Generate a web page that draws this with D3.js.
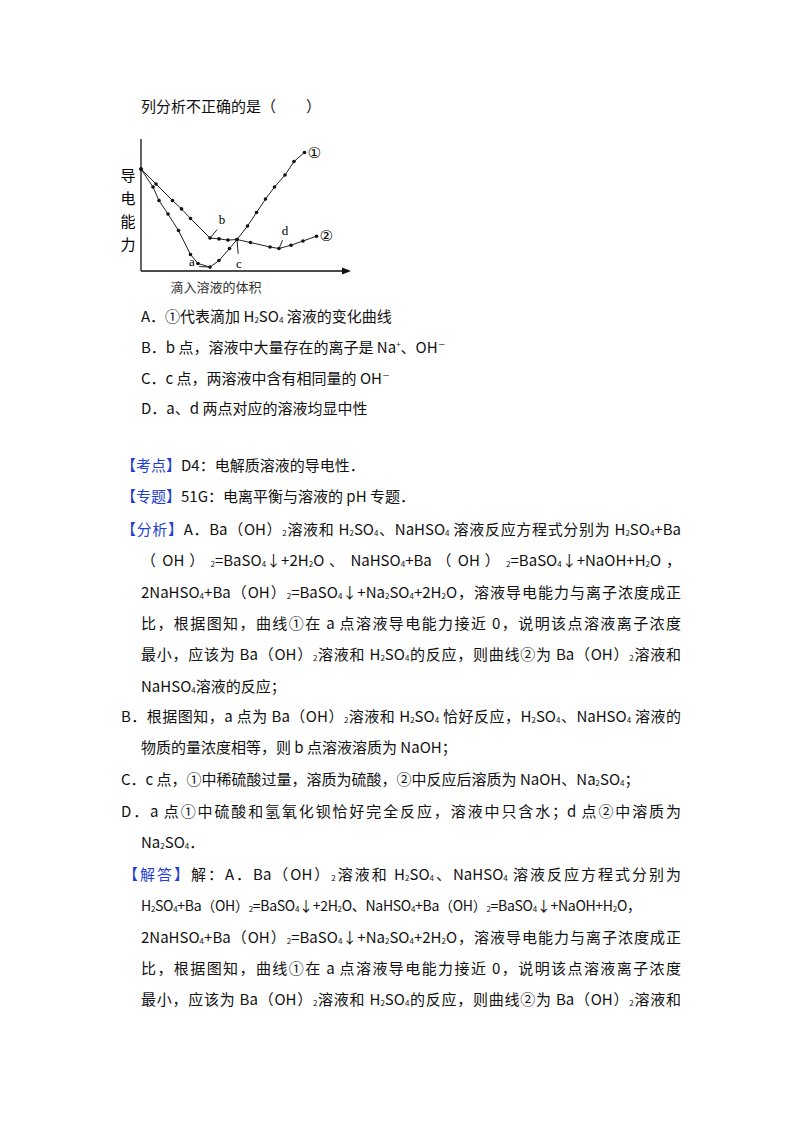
<!DOCTYPE html>
<html><head><meta charset="utf-8">
<script src="https://cdn.jsdelivr.net/npm/d3@7"></script>
<style>
body{margin:0;background:#fff;width:800px;height:1132px;position:relative;font-family:"Noto Sans CJK SC","Noto Sans",sans-serif;color:#111;overflow:hidden}
.l{position:absolute;font-size:15px;line-height:20px;white-space:nowrap}
.j{text-align:justify;text-align-last:justify;white-space:normal}
.k{color:#1f3fd6}
sub{font-size:8px;line-height:0;vertical-align:-1px}
sup{font-size:8px;line-height:0;vertical-align:6px}
svg{position:absolute;left:0;top:0}
</style></head><body>
<svg id="c" width="800" height="320"></svg>
<div id="t"></div>
<script>
// data (units: x volume, y conductivity, arbitrary)
const curve1 = [[0,34],[4,28],[6,23.5],[9,19],[12.5,13.5],[16.5,5.5],[19,2.5],[23,1.3],[26,3.5],[29.5,7.5],[32,10.5],[35.5,15],[38.5,19.5],[41.5,24],[44.5,28],[48,32],[51,36.5],[54.5,39.5]];
const curve2 = [[0,34],[5,29],[10.5,23.5],[13.5,20.7],[16.5,17.5],[23,11],[26,10.7],[29,10.3],[32,10.5],[36.5,9.5],[43,8],[46,7.5],[50,8.6],[54,10],[58.5,11.6]];
const pointLabels = [{t:"a",p:[23,1.3],dx:-18,dy:-1},{t:"b",p:[23,11],dx:12,dy:-14},{t:"c",p:[32,10.5],dx:2,dy:24},{t:"d",p:[46,7.5],dx:6,dy:-14}];
const curveLabels = [{t:"①",p:[54.5,39.5]},{t:"②",p:[58.5,11.6]}];
const yLabel = ["导","电","能","力"];
const xLabel = "滴入溶液的体积";

const svg=d3.select("#c");
const x=d3.scaleLinear().domain([0,70]).range([141,351]);
const y=d3.scaleLinear().domain([0,44]).range([271,139]);
svg.append("line").attr("x1",x(0)).attr("x2",x(0)).attr("y1",y(44)).attr("y2",y(0)).attr("stroke","#111").attr("stroke-width",1.3);
svg.append("line").attr("x1",x(0)).attr("x2",x(68)).attr("y1",y(0)).attr("y2",y(0)).attr("stroke","#111").attr("stroke-width",1.3);
svg.append("path").attr("d",`M${x(70)},${y(0)} l-9,-3.5 l0,7z`).attr("fill","#111");
const line=d3.line().x(d=>x(d[0])).y(d=>y(d[1]));
[curve1,curve2].forEach(c=>{
  svg.append("path").attr("d",line(c)).attr("fill","none").attr("stroke","#222").attr("stroke-width",1);
  svg.selectAll(null).data(c).enter().append("circle").attr("cx",d=>x(d[0])).attr("cy",d=>y(d[1])).attr("r",1.8).attr("fill","#111");
});
curveLabels.forEach(l=>svg.append("text").attr("x",x(l.p[0])+3).attr("y",y(l.p[1])+5).attr("font-size",15).attr("font-family","DejaVu Sans").text(l.t));
pointLabels.forEach(l=>{
  const px=x(l.p[0]),py=y(l.p[1]);
  svg.append("line").attr("x1",px).attr("y1",py).attr("x2",px+l.dx*0.6).attr("y2",py+l.dy*0.6).attr("stroke","#222");
  svg.append("text").attr("x",px+l.dx).attr("y",py+l.dy+(l.dy>0?4:0)).attr("text-anchor","middle").attr("font-size",13).attr("font-family","Liberation Serif").text(l.t);
});
yLabel.forEach((c,i)=>svg.append("text").attr("x",128).attr("y",181+i*23).attr("text-anchor","middle").attr("font-size",15).text(c));
svg.append("text").attr("x",x(25)).attr("y",292).attr("text-anchor","middle").attr("font-size",13).attr("fill","#333").text(xLabel);

const lines=[
[141,107,"列分析不正确的是（　　）",0],
[141,317,"A．①代表滴加 H<sub>2</sub>SO<sub>4</sub> 溶液的变化曲线",0],
[141,348,"B．b 点，溶液中大量存在的离子是 Na<sup>+</sup>、OH<sup>－</sup>",0],
[141,379,"C．c 点，两溶液中含有相同量的 OH<sup>－</sup>",0],
[141,409,"D．a、d 两点对应的溶液均显中性",0],
[121,466,"<span class=k>【考点】</span>D4：电解质溶液的导电性．",0],
[121,497,"<span class=k>【专题】</span>51G：电离平衡与溶液的 pH 专题．",0],
[121,530,"<span class=k>【分析】</span>A．Ba（OH）<sub>2</sub>溶液和 H<sub>2</sub>SO<sub>4</sub>、NaHSO<sub>4</sub> 溶液反应方程式分别为 H<sub>2</sub>SO<sub>4</sub>+Ba",1],
[141,561,"（ OH ） <sub>2</sub>=BaSO<sub>4</sub>↓+2H<sub>2</sub>O 、 NaHSO<sub>4</sub>+Ba （ OH ） <sub>2</sub>=BaSO<sub>4</sub>↓+NaOH+H<sub>2</sub>O ，",1],
[141,593,"2NaHSO<sub>4</sub>+Ba（OH）<sub>2</sub>=BaSO<sub>4</sub>↓+Na<sub>2</sub>SO<sub>4</sub>+2H<sub>2</sub>O，溶液导电能力与离子浓度成正",1],
[141,624,"比，根据图知，曲线①在 a 点溶液导电能力接近 0，说明该点溶液离子浓度",1],
[141,655,"最小，应该为 Ba（OH）<sub>2</sub>溶液和 H<sub>2</sub>SO<sub>4</sub>的反应，则曲线②为 Ba（OH）<sub>2</sub>溶液和",1],
[141,687,"NaHSO<sub>4</sub>溶液的反应；",0],
[121,717,"B．根据图知，a 点为 Ba（OH）<sub>2</sub>溶液和 H<sub>2</sub>SO<sub>4</sub> 恰好反应，H<sub>2</sub>SO<sub>4</sub>、NaHSO<sub>4</sub> 溶液的",1],
[141,748,"物质的量浓度相等，则 b 点溶液溶质为 NaOH；",0],
[121,780,"C．c 点，①中稀硫酸过量，溶质为硫酸，②中反应后溶质为 NaOH、Na<sub>2</sub>SO<sub>4</sub>；",0],
[121,812,"D．a 点①中硫酸和氢氧化钡恰好完全反应，溶液中只含水；d 点②中溶质为",1],
[141,843,"Na<sub>2</sub>SO<sub>4</sub>．",0],
[123,875,"<span class=k>【解答】</span>解：A．Ba（OH）<sub>2</sub>溶液和 H<sub>2</sub>SO<sub>4</sub>、NaHSO<sub>4</sub> 溶液反应方程式分别为",1],
[141,906,"<span style='font-size:14px;letter-spacing:-0.3px'>H<sub>2</sub>SO<sub>4</sub>+Ba（OH）<sub>2</sub>=BaSO<sub>4</sub>↓+2H<sub>2</sub>O、NaHSO<sub>4</sub>+Ba（OH）<sub>2</sub>=BaSO<sub>4</sub>↓+NaOH+H<sub>2</sub>O，</span>",0],
[141,938,"2NaHSO<sub>4</sub>+Ba（OH）<sub>2</sub>=BaSO<sub>4</sub>↓+Na<sub>2</sub>SO<sub>4</sub>+2H<sub>2</sub>O，溶液导电能力与离子浓度成正",1],
[141,969,"比，根据图知，曲线①在 a 点溶液导电能力接近 0，说明该点溶液离子浓度",1],
[141,1000,"最小，应该为 Ba（OH）<sub>2</sub>溶液和 H<sub>2</sub>SO<sub>4</sub>的反应，则曲线②为 Ba（OH）<sub>2</sub>溶液和",1]
];
const t=d3.select("#t");
lines.forEach(([lx,ly,h,j])=>{
  const d=t.append("div").attr("class","l"+(j?" j":"")).style("left",lx+"px").style("top",(ly-11)+"px").html(h);
  if(j) d.style("width",(681-lx)+"px");
});
</script>
</body></html>
